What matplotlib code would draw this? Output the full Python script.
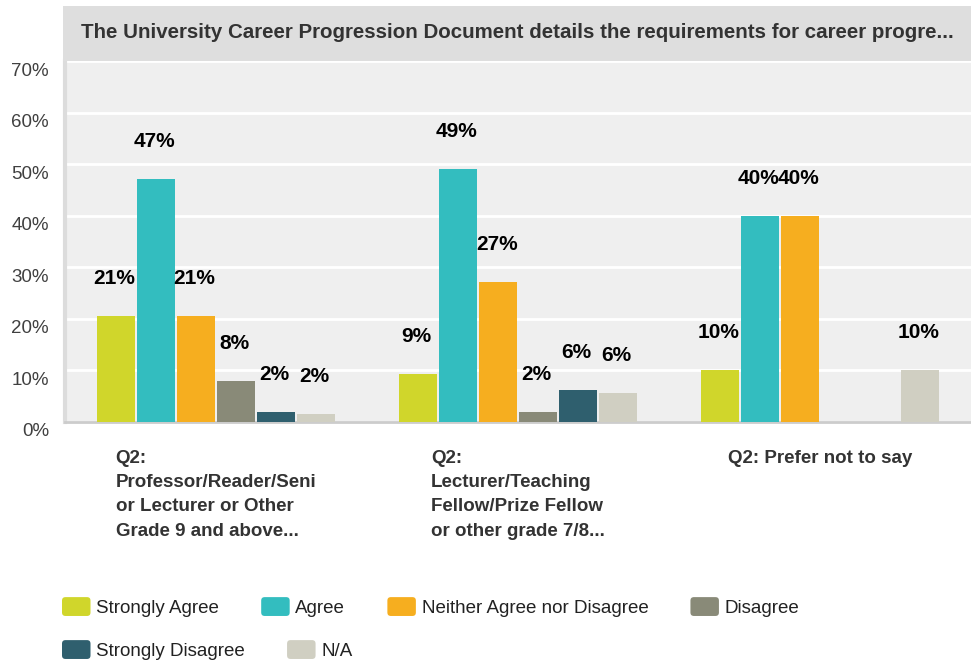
import numpy as np
import matplotlib
matplotlib.use('Agg')
import matplotlib.pyplot as plt
from matplotlib.patches import Patch, Rectangle, FancyBboxPatch
from matplotlib.legend_handler import HandlerPatch
from matplotlib.transforms import ScaledTranslation

plt.rcParams['font.family'] = ['Liberation Sans', 'DejaVu Sans']

title = 'The University Career Progression Document details the requirements for career progre...'
groups = ['Q2:\nProfessor/Reader/Seni\nor Lecturer or Other\nGrade 9 and above...',
          'Q2:\nLecturer/Teaching\nFellow/Prize Fellow\nor other grade 7/8...',
          'Q2: Prefer not to say']
series = ['Strongly Agree', 'Agree', 'Neither Agree nor Disagree', 'Disagree',
          'Strongly Disagree', 'N/A']
colors = ['#d0d62b', '#33bdbf', '#f6ae1f', '#898a78', '#2f5f6e', '#d0cfc2']

strongly_agree = [20.6, 9.3, 10.0]
agree = [47.1, 49.0, 40.0]
neither = [20.6, 27.2, 40.0]
disagree = [7.9, 2.0, 0.0]
strongly_disagree = [2.0, 6.3, 0.0]
na = [1.6, 5.6, 10.0]
values = [strongly_agree, agree, neither, disagree, strongly_disagree, na]

yticks = [0, 10, 20, 30, 40, 50, 60, 70]

W, H = 971, 661
fig = plt.figure(figsize=(W/100, H/100), dpi=100)
ax = fig.add_axes([65/W, 1-422/H, 1-65/W, (422-61)/H])
ax.set_facecolor('#efefef')

x = np.arange(len(groups))
pitch = 0.1325
width = 0.123
for i, (vals, c) in enumerate(zip(values, colors)):
    xs = x + (i - 2.5)*pitch
    ax.bar(xs, vals, width, color=c, zorder=3)
    for xi, v in zip(xs, vals):
        if v > 0:
            ax.annotate('%d%%' % round(v), (xi, v), xytext=(-1, 27), textcoords='offset points',
                        ha='center', va='center', fontsize=15, fontweight='bold', color='black')

ax.set_xlim(-0.5, 2.5)
ax.set_ylim(0, 70)
ax.set_yticks(yticks)
ax.set_yticklabels(['%d%%' % t for t in yticks], fontsize=13.5, color='#404040')
ax.yaxis.grid(True, color='white', linewidth=2, zorder=1)
ax.set_axisbelow(True)
ax.tick_params(axis='y', length=0, pad=11.5)
off = ScaledTranslation(0, -0.08, fig.dpi_scale_trans)
for lab in ax.get_yticklabels():
    lab.set_transform(lab.get_transform() + off)

ax.set_xticks(x)
ax.set_xticklabels(groups, fontsize=13.5, fontweight='bold', color='#333333',
                   ha='center', va='top', multialignment='left', linespacing=1.56)
ax.tick_params(axis='x', length=0, pad=20)

for s in ['top', 'right']:
    ax.spines[s].set_visible(False)
ax.spines['left'].set_color('#dcdcdc')
ax.spines['left'].set_linewidth(3)
ax.spines['bottom'].set_color('#cccccc')
ax.spines['bottom'].set_linewidth(2)

# title bar
fig.patches.append(Rectangle((63/W, 1-61/H), 1-63/W, 55/H, transform=fig.transFigure,
                             facecolor='#dedede', edgecolor='none'))
fig.text(81/W, 1-33/H, title, fontsize=14.8, fontweight='bold', color='#333333',
         ha='left', va='center')


def round_box(legend, orig_handle, xdescent, ydescent, width, height, fontsize):
    return FancyBboxPatch((-xdescent, -ydescent), width, height,
                          boxstyle='round,pad=0,rounding_size=2.5')


handles = [Patch(facecolor=c, edgecolor='none', label=s) for s, c in zip(series, colors)]
leg_kw = dict(loc='center left', frameon=False, fontsize=13.5, borderpad=0,
              handlelength=1.52, handleheight=1.17, handletextpad=0.3,
              columnspacing=2.25, borderaxespad=0,
              handler_map={Patch: HandlerPatch(patch_func=round_box)})
leg1 = fig.legend(handles[:4], series[:4], ncol=4, bbox_to_anchor=(62/W, 1-607/H), **leg_kw)
leg2 = fig.legend(handles[4:], series[4:], ncol=2, bbox_to_anchor=(62/W, 1-650/H), **leg_kw)
for leg in (leg1, leg2):
    for t in leg.get_texts():
        t.set_color('#222222')

fig.savefig('out.png', dpi=100)
